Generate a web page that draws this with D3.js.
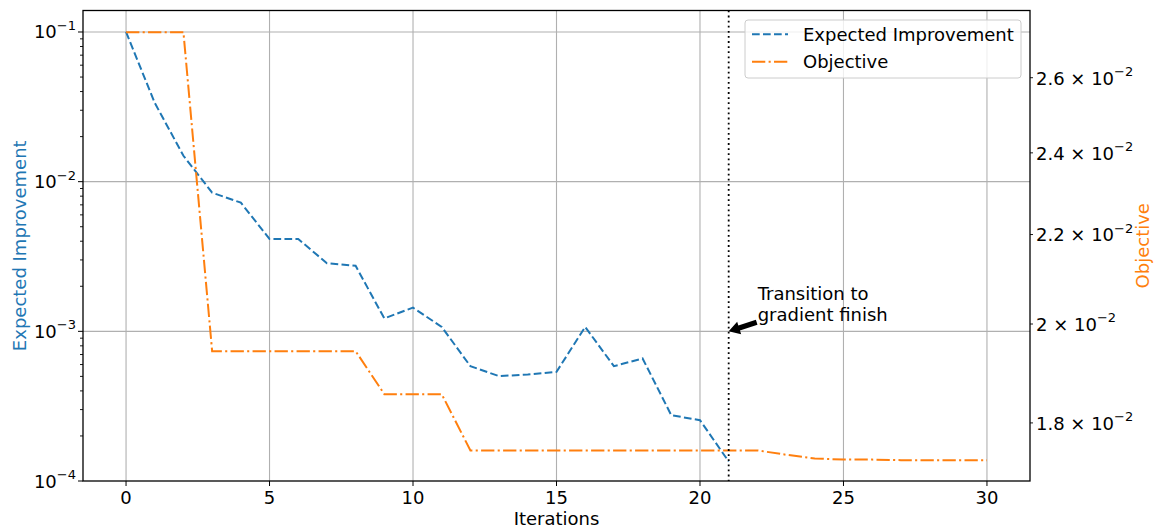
<!DOCTYPE html>
<html>
<head>
<meta charset="utf-8">
<script src="https://cdn.jsdelivr.net/npm/d3@7"></script>
<style>
  body { margin: 0; background: #fff; }
  svg { display: block; font-family: "DejaVu Sans", sans-serif; }
  .grid line { stroke: #b0b0b0; stroke-width: 1.1; }
  .tick-label { font-size: 18px; fill: #000; }
</style>
</head>
<body>
<div id="chart"></div>
<script>

// Data ////////////////////////////////////

const iterations = d3.range(0, 31);

const eiIterations = d3.range(0, 22);
const expectedImprovement = [
    0.1, 0.0336, 0.0149, 0.00844, 0.00724, 0.00414, 0.00414, 0.00285,
    0.00274, 0.00122, 0.00144, 0.00107, 0.000585, 0.000502, 0.000515,
    0.000536, 0.00107, 0.000585, 0.000659, 0.000275, 0.000255, 0.000135
];

const objective = [
    0.02729, 0.02729, 0.02729, 0.01943, 0.01943, 0.01943, 0.01943, 0.01943,
    0.01943, 0.01856, 0.01856, 0.01856, 0.01748, 0.01748, 0.01748, 0.01748,
    0.01748, 0.01748, 0.01748, 0.01748, 0.01748, 0.01748, 0.01748, 0.01740,
    0.01733, 0.01731, 0.01731, 0.01730, 0.01730, 0.01730, 0.01730
];

const xTicks = [0, 5, 10, 15, 20, 25, 30];
const eiTicks = [1e-4, 1e-3, 1e-2, 1e-1];
const objTicks = [0.018, 0.020, 0.022, 0.024, 0.026];
const objTickText = ["1.8", "2", "2.2", "2.4", "2.6"];

const transitionIter = 21;
const legendItems = ["Expected Improvement", "Objective"];

// Chart ////////////////////////////////////

const width = 1160, height = 531;
const box = { left: 83, right: 1030, top: 10.5, bottom: 481 };
const blue = "#1f77b4", orange = "#ff7f0e";

const svg = d3.select("#chart").append("svg")
    .attr("width", width)
    .attr("height", height);

const x = d3.scaleLinear().domain([-1.5, 31.5]).range([box.left, box.right]);
const yEI = d3.scaleLog().domain([1e-4, 0.1392]).range([box.bottom, box.top]);
const yObj = d3.scaleLog().domain([0.01692, 0.02793]).range([box.bottom, box.top]);

// Grid

const grid = svg.append("g").attr("class", "grid");

grid.selectAll(".vx")
    .data(xTicks)
    .join("line")
    .attr("x1", d => x(d)).attr("x2", d => x(d))
    .attr("y1", box.top).attr("y2", box.bottom);

grid.selectAll(".hy")
    .data(eiTicks.filter(d => d > 1e-4))
    .join("line")
    .attr("x1", box.left).attr("x2", box.right)
    .attr("y1", d => yEI(d)).attr("y2", d => yEI(d));

// Lines

const eiLine = d3.line()
    .x((d, i) => x(eiIterations[i]))
    .y(d => yEI(d));

const objLine = d3.line()
    .x((d, i) => x(iterations[i]))
    .y(d => yObj(d));

svg.append("path")
    .attr("d", eiLine(expectedImprovement))
    .attr("fill", "none")
    .attr("stroke", blue)
    .attr("stroke-width", 2)
    .attr("stroke-dasharray", "7.7,3.3");

svg.append("path")
    .attr("d", objLine(objective))
    .attr("fill", "none")
    .attr("stroke", orange)
    .attr("stroke-width", 2)
    .attr("stroke-dasharray", "13.3,3.3,2.1,3.3");

// Transition marker

svg.append("line")
    .attr("x1", x(transitionIter)).attr("x2", x(transitionIter))
    .attr("y1", box.top).attr("y2", box.bottom)
    .attr("stroke", "#000")
    .attr("stroke-width", 1.8)
    .attr("stroke-dasharray", "1.8,3.3");

drawArrow([x(transitionIter) + 28, yEI(1e-3) - 9], [x(transitionIter), yEI(1e-3)]);

const note = svg.append("text")
    .attr("class", "tick-label")
    .attr("x", x(transitionIter) + 29)
    .attr("y", yEI(1e-3) - 31);
note.append("tspan").text("Transition to");
note.append("tspan")
    .attr("x", x(transitionIter) + 29)
    .attr("dy", 20.5)
    .text("gradient finish");

// Spines

svg.append("rect")
    .attr("x", box.left).attr("y", box.top)
    .attr("width", box.right - box.left)
    .attr("height", box.bottom - box.top)
    .attr("fill", "none")
    .attr("stroke", "#000")
    .attr("stroke-width", 1.3);

// X axis

const xAxis = svg.append("g");

xAxis.selectAll("line")
    .data(xTicks)
    .join("line")
    .attr("x1", d => x(d)).attr("x2", d => x(d))
    .attr("y1", box.bottom).attr("y2", box.bottom + 5)
    .attr("stroke", "#000");

xAxis.selectAll("text")
    .data(xTicks)
    .join("text")
    .attr("class", "tick-label")
    .attr("x", d => x(d))
    .attr("y", box.bottom + 23)
    .attr("text-anchor", "middle")
    .text(d => d);

svg.append("text")
    .attr("class", "tick-label")
    .attr("x", (box.left + box.right) / 2)
    .attr("y", 525)
    .attr("text-anchor", "middle")
    .text("Iterations");

// Left axis (log)

const eiMinor = yEI.ticks().filter(d => !eiTicks.some(t => Math.abs(t - d) / t < 1e-9));

svg.append("g").selectAll("line")
    .data(eiMinor)
    .join("line")
    .attr("x1", box.left - 3).attr("x2", box.left)
    .attr("y1", d => yEI(d)).attr("y2", d => yEI(d))
    .attr("stroke", "#000")
    .attr("stroke-width", 0.9);

const leftAxis = svg.append("g");

leftAxis.selectAll("line")
    .data(eiTicks)
    .join("line")
    .attr("x1", box.left - 5).attr("x2", box.left)
    .attr("y1", d => yEI(d)).attr("y2", d => yEI(d))
    .attr("stroke", "#000");

const eiLabels = leftAxis.selectAll("text")
    .data(eiTicks)
    .join("text")
    .attr("class", "tick-label")
    .attr("x", box.left - 7)
    .attr("y", d => yEI(d) + 6.5)
    .attr("text-anchor", "end");

eiLabels.append("tspan").text("10");
eiLabels.append("tspan")
    .attr("dy", -8.5)
    .attr("font-size", 13)
    .text(d => "\u2212" + Math.round(-Math.log10(d)));

svg.append("text")
    .attr("transform", `translate(19, ${ (box.top + box.bottom) / 2 }) rotate(-90)`)
    .attr("text-anchor", "middle")
    .attr("dominant-baseline", "central")
    .attr("font-size", 18)
    .attr("fill", blue)
    .text("Expected Improvement");

// Right axis (log)

const rightAxis = svg.append("g");

rightAxis.selectAll("line")
    .data(objTicks)
    .join("line")
    .attr("x1", box.right).attr("x2", box.right + 3)
    .attr("y1", d => yObj(d)).attr("y2", d => yObj(d))
    .attr("stroke", "#000")
    .attr("stroke-width", 0.9);

const objLabels = rightAxis.selectAll("text")
    .data(objTicks)
    .join("text")
    .attr("class", "tick-label")
    .attr("x", box.right + 6)
    .attr("y", d => yObj(d) + 6.8);

objLabels.append("tspan").text((d, i) => objTickText[i] + " \u00d7 10");
objLabels.append("tspan")
    .attr("dy", -8.5)
    .attr("font-size", 13)
    .text("\u22122");

svg.append("text")
    .attr("transform", `translate(1142, ${ (box.top + box.bottom) / 2 }) rotate(-90)`)
    .attr("text-anchor", "middle")
    .attr("dominant-baseline", "central")
    .attr("font-size", 18)
    .attr("fill", orange)
    .text("Objective");

// Legend

const legend = svg.append("g").attr("transform", "translate(745, 20)");

legend.append("rect")
    .attr("width", 276).attr("height", 58)
    .attr("rx", 3)
    .attr("fill", "#fff")
    .attr("fill-opacity", 0.8)
    .attr("stroke", "#cccccc");

const legendRows = legend.selectAll("g")
    .data(legendItems)
    .join("g")
    .attr("transform", (d, i) => `translate(0, ${ 14.3 + i * 27.4 })`);

legendRows.append("line")
    .attr("x1", 7).attr("x2", 43)
    .attr("stroke", (d, i) => i === 0 ? blue : orange)
    .attr("stroke-width", 2)
    .attr("stroke-dasharray", (d, i) => i === 0 ? "7.7,3.3" : "13.3,3.3,2.1,3.3");

legendRows.append("text")
    .attr("class", "tick-label")
    .attr("x", 58)
    .attr("y", 6.5)
    .text(d => d);

function drawArrow(tail, tip) {

    const [x0, y0] = tail;
    const [x1, y1] = tip;
    const len = Math.hypot(x1 - x0, y1 - y0);
    const ux = (x1 - x0) / len, uy = (y1 - y0) / len;
    const nx = -uy, ny = ux;
    const head = 11, hw = 6.5, bw = 2.6;
    const bx = x1 - ux * head, by = y1 - uy * head;

    const pts = [
        [x0 + nx * bw, y0 + ny * bw],
        [bx + nx * bw, by + ny * bw],
        [bx + nx * hw, by + ny * hw],
        [x1, y1],
        [bx - nx * hw, by - ny * hw],
        [bx - nx * bw, by - ny * bw],
        [x0 - nx * bw, y0 - ny * bw]
    ];

    svg.append("path")
        .attr("d", "M" + pts.map(p => p.join(",")).join("L") + "Z")
        .attr("fill", "#000");
}
</script>
</body>
</html>
